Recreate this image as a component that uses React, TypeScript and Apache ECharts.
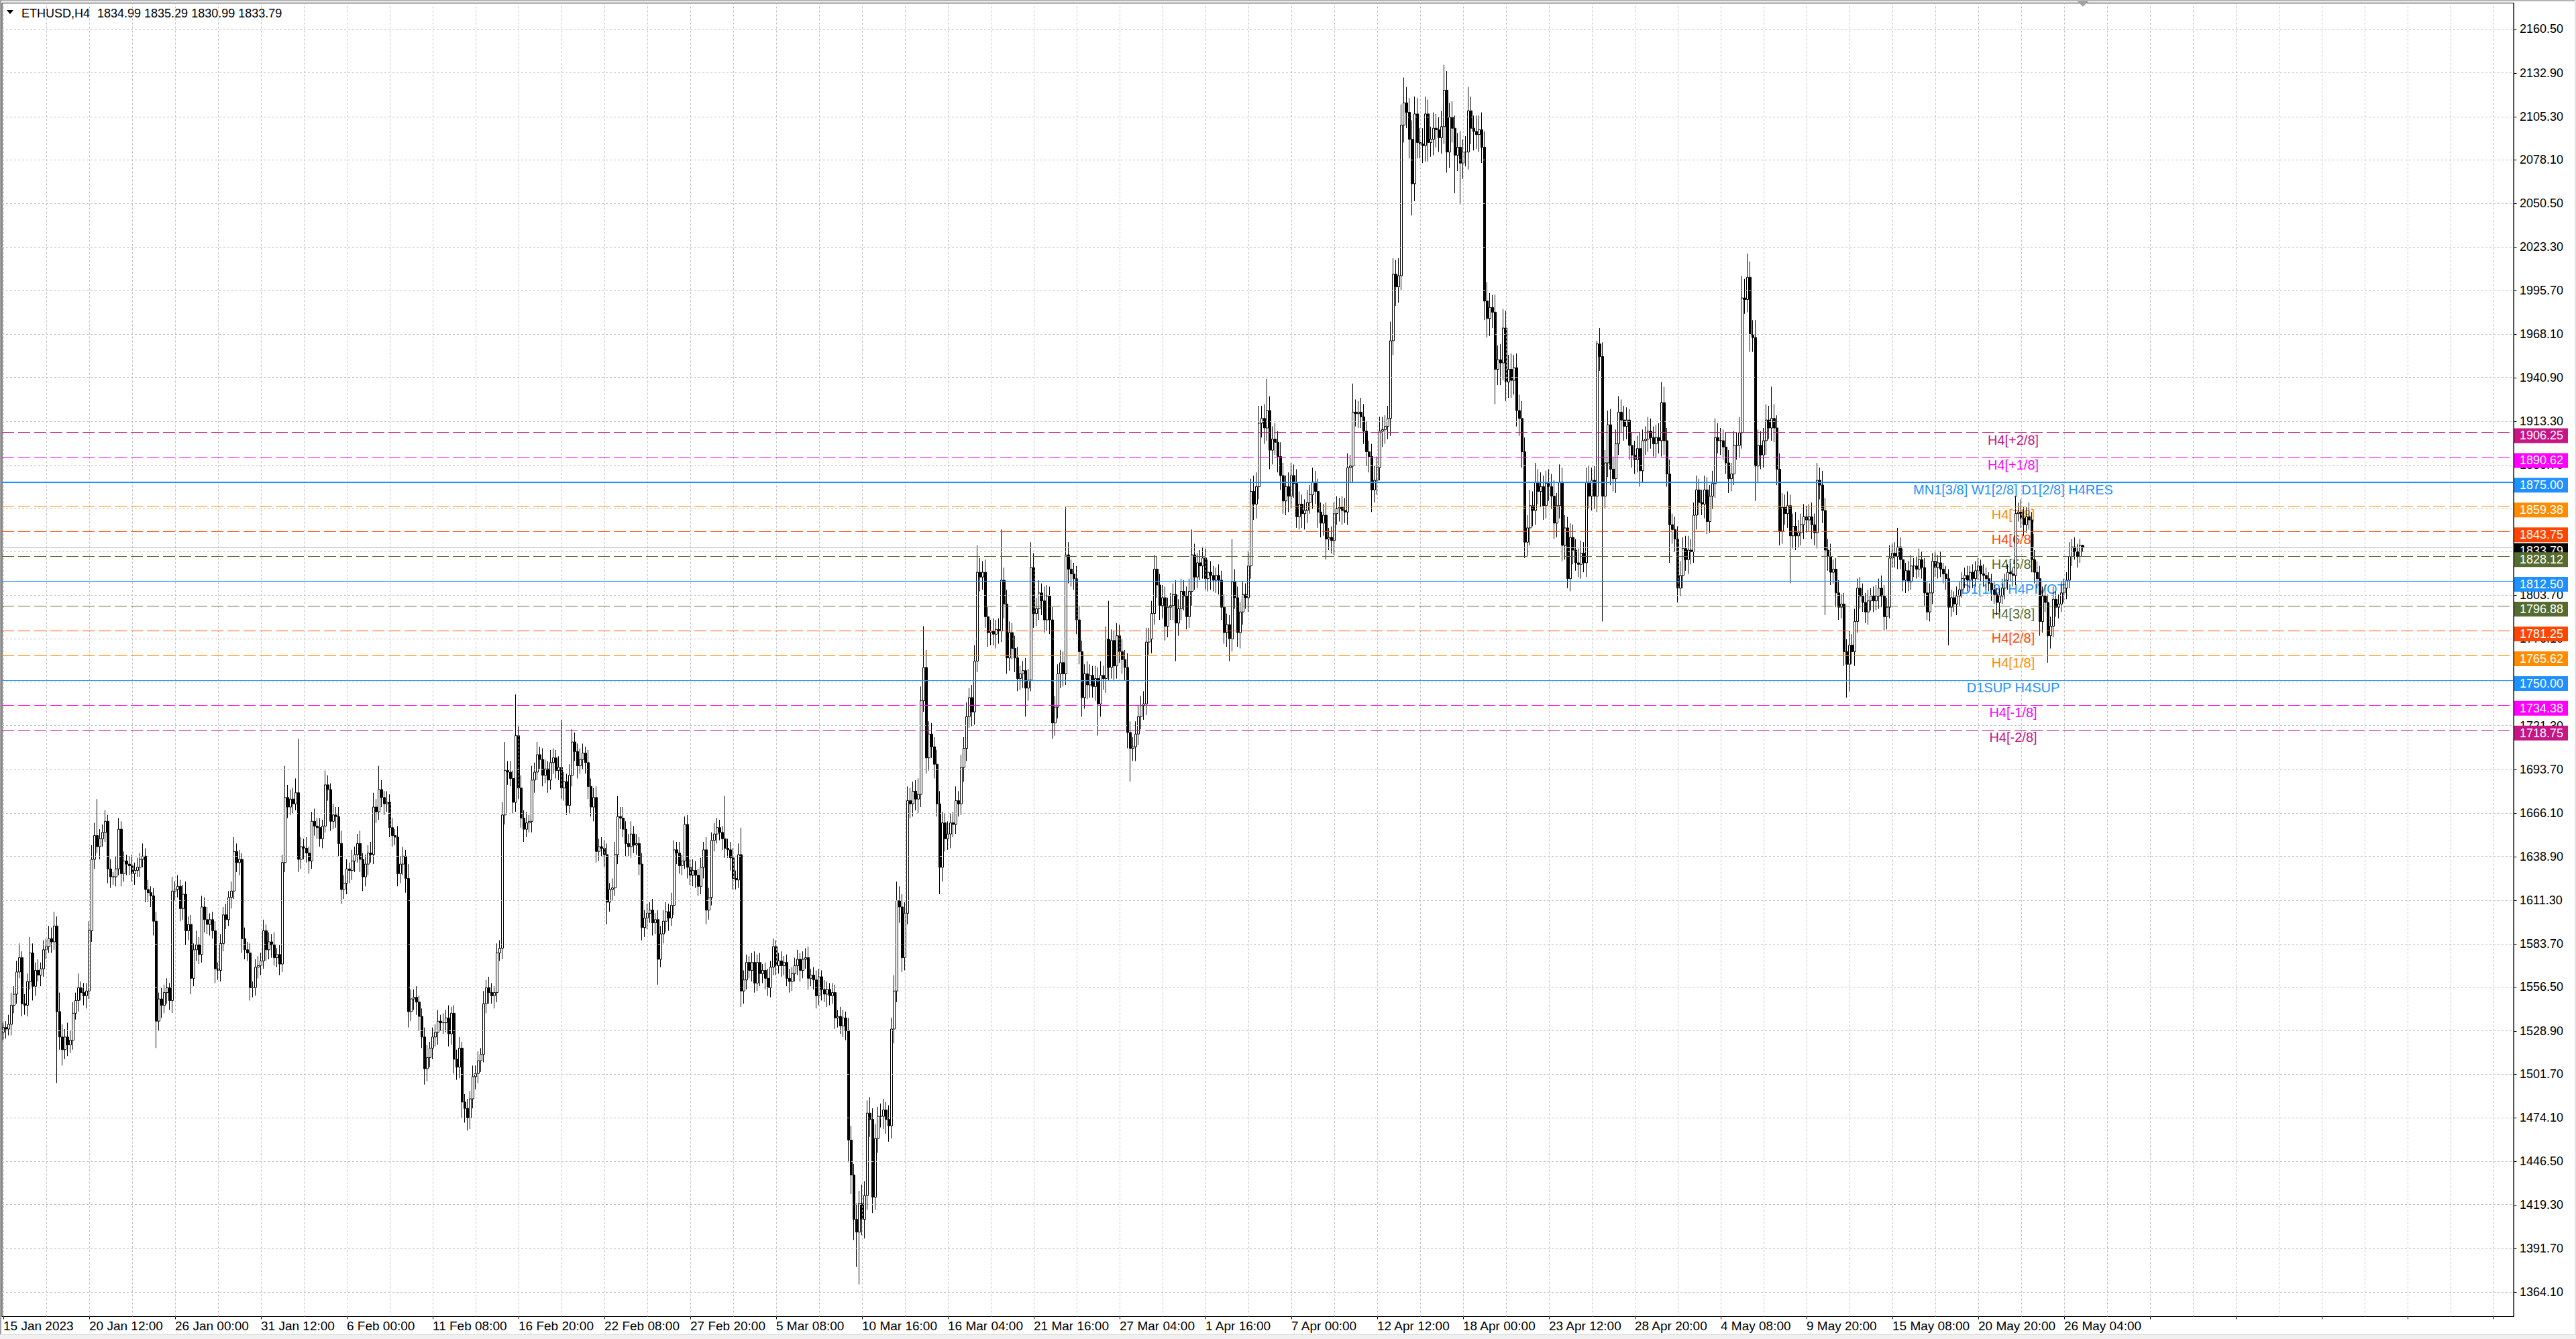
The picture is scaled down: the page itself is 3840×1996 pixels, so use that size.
import React, { useEffect, useRef } from "react";
import * as echarts from "echarts";

// ---------- data (ETHUSD H4) ----------
const firstOpen = 1528;
const closes: number[] = [
  1531, 1530, 1533, 1545, 1552, 1566, 1575, 1546, 1545, 1560, 1578, 1557, 1567, 1564, 1568, 1580,
  1582, 1587, 1585, 1595, 1541, 1525, 1517, 1525, 1520, 1523, 1540, 1548, 1556, 1553, 1551, 1554,
  1592, 1637, 1652, 1645, 1650, 1654, 1661, 1631, 1626, 1626, 1631, 1656, 1628, 1636, 1634, 1633,
  1628, 1630, 1632, 1637, 1639, 1618, 1616, 1614, 1598, 1535, 1549, 1545, 1553, 1556, 1548, 1617,
  1618, 1620, 1606, 1615, 1592, 1596, 1562, 1580, 1583, 1577, 1607, 1599, 1596, 1599, 1592, 1568,
  1567, 1584, 1602, 1599, 1613, 1617, 1642, 1635, 1637, 1587, 1580, 1578, 1556, 1556, 1569, 1570,
  1573, 1592, 1580, 1585, 1583, 1575, 1577, 1571, 1635, 1676, 1670, 1675, 1672, 1679, 1637, 1645,
  1644, 1641, 1636, 1661, 1658, 1657, 1650, 1658, 1684, 1681, 1661, 1665, 1664, 1647, 1618, 1622,
  1631, 1630, 1636, 1640, 1647, 1637, 1626, 1634, 1641, 1640, 1670, 1667, 1681, 1676, 1672, 1673,
  1657, 1652, 1651, 1628, 1634, 1639, 1625, 1541, 1549, 1550, 1547, 1538, 1525, 1505, 1512, 1518,
  1525, 1528, 1535, 1534, 1534, 1537, 1527, 1540, 1511, 1506, 1518, 1484, 1480, 1474, 1486, 1500,
  1502, 1510, 1514, 1546, 1556, 1553, 1551, 1553, 1578, 1581, 1665, 1693, 1692, 1688, 1673, 1715,
  1682, 1663, 1656, 1660, 1661, 1687, 1692, 1703, 1700, 1690, 1694, 1687, 1698, 1701, 1693, 1695,
  1682, 1686, 1671, 1690, 1711, 1705, 1696, 1700, 1704, 1698, 1683, 1670, 1676, 1642, 1645, 1644,
  1640, 1610, 1618, 1619, 1640, 1664, 1663, 1656, 1647, 1645, 1653, 1646, 1647, 1634, 1594, 1600,
  1603, 1605, 1597, 1599, 1574, 1590, 1598, 1604, 1600, 1608, 1643, 1641, 1633, 1636, 1659, 1632,
  1627, 1630, 1627, 1620, 1632, 1643, 1605, 1613, 1649, 1653, 1657, 1654, 1650, 1644, 1643, 1638,
  1625, 1624, 1640, 1554, 1561, 1572, 1567, 1572, 1559, 1572, 1565, 1567, 1562, 1556, 1569, 1582,
  1570, 1573, 1570, 1572, 1562, 1560, 1565, 1570, 1574, 1567, 1574, 1575, 1562, 1564, 1561, 1551,
  1563, 1555, 1552, 1555, 1551, 1553, 1537, 1538, 1532, 1537, 1529, 1460, 1438, 1410, 1402, 1420,
  1410, 1425, 1477, 1473, 1424, 1461, 1475, 1475, 1479, 1473, 1469, 1530, 1554, 1611, 1607, 1575,
  1603, 1674, 1672, 1680, 1675, 1678, 1737, 1758, 1701, 1716, 1708, 1697, 1672, 1632, 1660, 1650,
  1653, 1660, 1659, 1674, 1672, 1695, 1707, 1727, 1739, 1730, 1762, 1818, 1815, 1818, 1790, 1780,
  1781, 1779, 1782, 1781, 1813, 1798, 1764, 1780, 1770, 1764, 1751, 1754, 1756, 1745, 1750, 1821,
  1792, 1795, 1805, 1800, 1788, 1803, 1788, 1723, 1733, 1754, 1761, 1754, 1829, 1820, 1817, 1814,
  1788, 1768, 1739, 1754, 1747, 1753, 1746, 1751, 1735, 1753, 1751, 1776, 1758, 1775, 1759, 1778,
  1768, 1763, 1758, 1717, 1707, 1708, 1716, 1727, 1734, 1735, 1774, 1776, 1792, 1820, 1810, 1797,
  1802, 1784, 1796, 1797, 1804, 1786, 1795, 1806, 1803, 1790, 1806, 1829, 1815, 1824, 1822, 1827,
  1814, 1818, 1816, 1813, 1816, 1813, 1796, 1780, 1785, 1776, 1812, 1802, 1780, 1793, 1804, 1802,
  1822, 1869, 1861, 1872, 1912, 1915, 1909, 1920, 1895, 1902, 1900, 1891, 1879, 1863, 1872, 1866,
  1879, 1874, 1853, 1861, 1855, 1857, 1862, 1867, 1875, 1869, 1856, 1849, 1854, 1839, 1840, 1838,
  1855, 1858, 1859, 1857, 1856, 1884, 1885, 1919, 1918, 1919, 1916, 1907, 1894, 1891, 1870, 1876,
  1884, 1907, 1908, 1910, 1915, 1964, 2006, 1998, 2005, 2100, 2114, 2108, 2091, 2063, 2107, 2089,
  2088, 2087, 2107, 2089, 2091, 2098, 2097, 2092, 2099, 2122, 2083, 2105, 2098, 2081, 2086, 2076,
  2083, 2083, 2109, 2098, 2096, 2094, 2097, 2086, 1989, 1978, 1985, 1982, 1946, 1952, 1950, 1972,
  1938, 1946, 1939, 1947, 1920, 1915, 1894, 1837, 1846, 1860, 1857, 1875, 1869, 1872, 1860, 1874,
  1872, 1866, 1849, 1860, 1875, 1835, 1846, 1814, 1840, 1832, 1824, 1823, 1830, 1824, 1875, 1866,
  1876, 1866, 1962, 1954, 1866, 1887, 1911, 1883, 1877, 1899, 1919, 1914, 1910, 1914, 1898, 1892,
  1889, 1896, 1882, 1901, 1902, 1907, 1903, 1899, 1903, 1901, 1925, 1901, 1880, 1848, 1845, 1839,
  1808, 1816, 1833, 1826, 1832, 1831, 1854, 1870, 1862, 1861, 1870, 1850, 1866, 1874, 1903, 1901,
  1901, 1897, 1887, 1877, 1880, 1898, 1898, 1906, 1991, 1990, 2004, 1968, 1966, 1885, 1898, 1892,
  1901, 1914, 1909, 1915, 1909, 1883, 1844, 1859, 1855, 1860, 1841, 1847, 1841, 1843, 1848, 1853,
  1851, 1853, 1848, 1843, 1876, 1873, 1857, 1832, 1828, 1818, 1820, 1805, 1796, 1798, 1768, 1760,
  1772, 1768, 1787, 1808, 1803, 1799, 1793, 1800, 1803, 1800, 1803, 1808, 1803, 1790, 1796, 1827,
  1830, 1828, 1834, 1826, 1813, 1819, 1812, 1822, 1822, 1820, 1826, 1821, 1805, 1793, 1805, 1825,
  1821, 1824, 1820, 1817, 1814, 1796, 1802, 1798, 1803, 1807, 1814, 1816, 1813, 1818, 1814, 1819,
  1822, 1817, 1816, 1814, 1811, 1807, 1804, 1799, 1803, 1808, 1813, 1818, 1817, 1816, 1855, 1856,
  1852, 1848, 1853, 1851, 1826, 1818, 1814, 1787, 1803, 1799, 1778, 1784, 1801, 1796, 1798, 1805,
  1808, 1813, 1828, 1834, 1831, 1828, 1834.99, 1833.79,
];
// distance from the body top to the high
const wickUp: number[] = [
  3, 4, 6, 8, 5, 7, 9, 4, 6, 5, 10, 6, 5, 7, 4, 6,
  5, 8, 7, 9, 6, 12, 8, 5, 9, 6, 7, 5, 9, 4, 6, 5,
  6, 9, 8, 23, 6, 5, 7, 4, 6, 3, 8, 7, 5, 6, 4, 5,
  7, 5, 6, 4, 8, 5, 6, 4, 5, 6, 4, 7, 5, 6, 3, 9,
  5, 7, 4, 6, 8, 5, 6, 4, 9, 5, 7, 6, 8, 4, 5, 6,
  4, 6, 5, 7, 4, 6, 9, 5, 6, 4, 7, 5, 6, 4, 5, 6,
  5, 7, 4, 6, 5, 8, 4, 6, 5, 20, 8, 6, 7, 9, 34, 6,
  5, 7, 4, 6, 8, 5, 6, 4, 9, 6, 4, 7, 5, 6, 8, 5,
  6, 4, 7, 5, 6, 8, 4, 6, 5, 7, 9, 5, 15, 6, 4, 7,
  5, 6, 4, 7, 5, 6, 4, 9, 6, 5, 7, 4, 5, 6, 8, 4,
  6, 5, 7, 4, 6, 5, 8, 4, 5, 6, 7, 4, 5, 6, 5, 7,
  5, 6, 4, 8, 5, 7, 6, 4, 6, 5, 8, 18, 6, 7, 5, 26,
  6, 8, 5, 7, 4, 9, 6, 8, 5, 7, 6, 5, 8, 6, 5, 7,
  30, 6, 5, 7, 8, 6, 5, 7, 6, 4, 8, 5, 6, 7, 5, 6,
  5, 7, 4, 6, 8, 13, 6, 7, 5, 6, 8, 5, 6, 4, 7, 5,
  6, 5, 7, 4, 6, 5, 7, 6, 5, 8, 6, 5, 7, 4, 5, 6,
  5, 7, 6, 4, 6, 5, 8, 6, 5, 7, 6, 5, 4, 27, 6, 5,
  6, 5, 7, 17, 6, 5, 4, 6, 7, 5, 6, 4, 5, 6, 4, 5,
  4, 5, 6, 4, 5, 6, 4, 5, 6, 4, 5, 6, 7, 4, 5, 6,
  5, 4, 6, 5, 4, 6, 5, 4, 6, 5, 4, 8, 9, 7, 10, 8,
  12, 9, 8, 10, 7, 9, 6, 8, 7, 5, 9, 7, 10, 12, 9, 8,
  7, 9, 8, 6, 7, 10, 9, 26, 11, 8, 7, 6, 9, 8, 7, 6,
  8, 6, 7, 9, 6, 8, 7, 9, 6, 8, 10, 17, 9, 7, 8, 6,
  7, 8, 6, 7, 32, 8, 9, 7, 6, 8, 7, 5, 6, 8, 7, 16,
  9, 7, 8, 6, 9, 7, 6, 8, 7, 6, 8, 7, 30, 8, 6, 7,
  8, 9, 7, 6, 8, 7, 6, 8, 7, 9, 6, 8, 24, 7, 6, 8,
  7, 8, 6, 9, 7, 6, 8, 7, 6, 8, 9, 7, 8, 9, 8, 7,
  8, 7, 6, 8, 7, 9, 6, 8, 7, 6, 8, 16, 7, 6, 8, 7,
  6, 8, 7, 6, 5, 7, 6, 8, 7, 6, 27, 8, 7, 6, 8, 7,
  9, 8, 10, 9, 11, 8, 9, 20, 9, 8, 10, 7, 9, 8, 7, 9,
  8, 7, 9, 8, 6, 7, 8, 6, 9, 7, 8, 6, 7, 8, 6, 7,
  7, 8, 6, 7, 8, 9, 7, 18, 8, 7, 9, 8, 6, 7, 8, 9,
  7, 9, 8, 7, 8, 12, 10, 9, 11, 13, 16, 10, 9, 12, 11, 10,
  9, 10, 11, 9, 8, 10, 9, 8, 10, 16, 12, 9, 10, 8, 9, 10,
  8, 10, 15, 9, 8, 10, 9, 11, 10, 12, 9, 8, 11, 9, 10, 12,
  11, 9, 10, 8, 9, 10, 11, 9, 8, 10, 9, 12, 8, 9, 7, 8,
  9, 8, 10, 8, 11, 9, 8, 7, 9, 8, 7, 9, 8, 7, 9, 10,
  8, 9, 2, 10, 9, 8, 9, 10, 8, 9, 10, 8, 9, 8, 7, 8,
  9, 8, 10, 7, 8, 9, 8, 7, 8, 9, 13, 10, 8, 9, 7, 8,
  8, 9, 7, 8, 9, 7, 8, 9, 7, 8, 9, 8, 7, 8, 12, 9,
  8, 7, 9, 8, 7, 9, 8, 10, 14, 12, 15, 10, 9, 11, 10, 9,
  8, 10, 9, 20, 9, 8, 10, 9, 8, 9, 7, 8, 9, 8, 7, 8,
  7, 8, 9, 7, 11, 8, 9, 8, 7, 8, 6, 7, 8, 6, 7, 8,
  9, 7, 8, 6, 7, 8, 6, 7, 5, 6, 7, 6, 8, 7, 6, 8,
  6, 7, 12, 6, 7, 5, 6, 7, 5, 6, 7, 5, 6, 7, 6, 5,
  6, 5, 7, 4, 5, 6, 5, 4, 6, 5, 4, 5, 6, 4, 5, 6,
  5, 4, 6, 5, 4, 6, 5, 4, 5, 6, 4, 5, 6, 4, 11, 6,
  8, 7, 6, 9, 5, 6, 7, 8, 6, 7, 5, 6, 8, 5, 6, 7,
  6, 5, 9, 5, 6, 5, 4, 0.3,
];
// distance from the body bottom to the low
const wickDown: number[] = [
  5, 6, 4, 7, 5, 6, 4, 8, 6, 7, 5, 9, 6, 4, 7, 5,
  6, 4, 7, 5, 45, 8, 10, 6, 7, 5, 6, 4, 7, 5, 6, 8,
  5, 7, 6, 4, 8, 5, 6, 9, 7, 5, 6, 4, 8, 5, 7, 6,
  5, 7, 4, 6, 5, 8, 6, 7, 9, 17, 6, 8, 5, 7, 6, 8,
  6, 5, 8, 7, 9, 6, 10, 5, 7, 6, 5, 8, 6, 7, 5, 9,
  6, 7, 5, 6, 4, 7, 5, 6, 8, 9, 6, 5, 8, 6, 5, 7,
  6, 5, 7, 6, 8, 5, 6, 7, 5, 6, 7, 5, 6, 4, 8, 6,
  7, 6, 8, 5, 6, 7, 5, 6, 4, 7, 6, 5, 7, 8, 9, 6,
  7, 8, 6, 7, 5, 8, 9, 6, 7, 5, 6, 7, 5, 6, 7, 5,
  6, 7, 5, 8, 6, 7, 9, 10, 6, 7, 8, 9, 7, 10, 8, 6,
  7, 6, 8, 5, 7, 6, 8, 7, 9, 8, 7, 10, 9, 8, 7, 6,
  8, 6, 7, 5, 6, 7, 5, 8, 6, 5, 7, 6, 8, 5, 7, 6,
  7, 6, 8, 5, 6, 7, 8, 5, 6, 7, 5, 8, 6, 7, 5, 6,
  7, 8, 6, 5, 7, 6, 8, 5, 6, 7, 8, 6, 9, 7, 6, 5,
  8, 14, 6, 7, 5, 6, 7, 5, 8, 6, 7, 5, 6, 7, 8, 6,
  7, 6, 8, 7, 16, 5, 6, 7, 8, 5, 6, 7, 5, 6, 5, 7,
  6, 7, 8, 6, 5, 7, 9, 6, 5, 7, 6, 5, 7, 6, 5, 8,
  7, 6, 5, 10, 8, 6, 5, 7, 6, 5, 8, 6, 7, 5, 6, 5,
  6, 5, 7, 6, 5, 7, 6, 5, 6, 7, 5, 6, 7, 5, 6, 8,
  6, 7, 5, 8, 6, 5, 7, 6, 5, 7, 6, 14, 12, 13, 22, 33,
  10, 12, 9, 11, 10, 8, 9, 7, 8, 9, 10, 8, 9, 7, 10, 9,
  8, 7, 9, 8, 7, 9, 8, 7, 10, 8, 7, 9, 8, 17, 9, 8,
  7, 9, 8, 6, 8, 7, 9, 8, 7, 9, 8, 7, 9, 8, 7, 9,
  8, 7, 9, 8, 7, 9, 10, 8, 7, 9, 8, 7, 9, 18, 8, 7,
  9, 8, 7, 9, 8, 7, 9, 10, 8, 7, 9, 8, 7, 9, 8, 7,
  9, 8, 12, 7, 9, 8, 7, 9, 20, 8, 7, 9, 8, 7, 9, 8,
  7, 9, 8, 10, 21, 8, 9, 7, 8, 9, 7, 8, 9, 7, 8, 9,
  8, 9, 7, 8, 9, 24, 8, 7, 9, 8, 7, 9, 8, 7, 9, 8,
  7, 8, 9, 7, 8, 9, 8, 7, 9, 14, 8, 7, 9, 10, 8, 7,
  9, 8, 10, 9, 8, 9, 10, 8, 12, 9, 8, 10, 9, 8, 9, 10,
  8, 9, 7, 8, 9, 10, 8, 7, 9, 8, 10, 9, 8, 13, 7, 8,
  9, 7, 8, 9, 7, 8, 9, 10, 8, 9, 7, 8, 9, 10, 14, 8,
  9, 8, 10, 9, 8, 11, 9, 12, 10, 9, 11, 10, 12, 20, 11, 10,
  9, 11, 10, 12, 9, 10, 11, 9, 10, 11, 13, 10, 9, 24, 10, 26,
  10, 9, 11, 10, 12, 9, 11, 10, 12, 12, 11, 10, 22, 10, 14, 11,
  12, 10, 11, 9, 10, 11, 10, 10, 9, 11, 10, 9, 8, 10, 9, 8,
  9, 8, 10, 9, 8, 10, 9, 6, 8, 9, 5, 8, 9, 6, 9, 8,
  9, 8, 10, 9, 79, 8, 9, 10, 8, 9, 7, 8, 9, 8, 9, 8,
  9, 8, 10, 7, 9, 8, 7, 8, 9, 8, 10, 9, 8, 24, 9, 8,
  9, 5, 8, 7, 9, 8, 7, 9, 8, 7, 9, 8, 7, 8, 9, 8,
  9, 8, 7, 9, 8, 7, 9, 8, 10, 9, 8, 11, 9, 22, 10, 9,
  8, 9, 7, 8, 9, 10, 9, 8, 7, 9, 30, 8, 9, 7, 8, 9,
  8, 7, 9, 8, 10, 9, 8, 41, 9, 8, 7, 9, 8, 7, 9, 21,
  17, 8, 9, 7, 8, 6, 7, 8, 6, 7, 6, 8, 7, 9, 8, 7,
  6, 7, 8, 6, 7, 8, 6, 5, 7, 6, 5, 7, 8, 5, 6, 7,
  6, 7, 5, 6, 7, 24, 6, 5, 7, 6, 5, 6, 7, 5, 6, 5,
  6, 5, 7, 6, 5, 7, 6, 8, 6, 5, 7, 6, 5, 7, 6, 5,
  6, 7, 5, 6, 8, 7, 6, 9, 7, 6, 17, 8, 7, 6, 7, 5,
  6, 7, 5, 6, 5, 7, 4, 2.8,
];
const dateLabels: string[] = [
  "15 Jan 2023", "20 Jan 12:00", "26 Jan 00:00", "31 Jan 12:00", "6 Feb 00:00",
  "11 Feb 08:00", "16 Feb 20:00", "22 Feb 08:00", "27 Feb 20:00", "5 Mar 08:00",
  "10 Mar 16:00", "16 Mar 04:00", "21 Mar 16:00", "27 Mar 04:00", "1 Apr 16:00",
  "7 Apr 00:00", "12 Apr 12:00", "18 Apr 00:00", "23 Apr 12:00", "28 Apr 20:00",
  "4 May 08:00", "9 May 20:00", "15 May 08:00", "20 May 20:00", "26 May 04:00",
];
const priceTicks: number[] = [
  2160.5, 2132.9, 2105.3, 2078.1, 2050.5, 2023.3, 1995.7, 1968.1, 1940.9, 1913.3,
  1885.7, 1858.5, 1830.9, 1803.7, 1776.1, 1748.9, 1721.3, 1693.7, 1666.1, 1638.9,
  1611.3, 1583.7, 1556.5, 1528.9, 1501.7, 1474.1, 1446.5, 1419.3, 1391.7, 1364.1,
];
const levelValues: number[] = [
  1906.25, 1890.62, 1875.0, 1859.38, 1843.75, 1828.12, 1812.5,
  1796.88, 1781.25, 1765.62, 1750.0, 1734.38, 1718.75,
];
const levelNames: string[] = [
  "H4[+2/8]", "H4[+1/8]", "MN1[3/8] W1[2/8] D1[2/8] H4RES", "H4[7/8]", "H4[6/8]", "H4[5/8]",
  "D1[1/8] H4PIVOT", "H4[3/8]", "H4[2/8]", "H4[1/8]", "D1SUP H4SUP", "H4[-1/8]", "H4[-2/8]",
];
const currentPrice = 1833.79;
const symbolTitle = "ETHUSD,H4";
const lastBarText = "1834.99 1835.29 1830.99 1833.79";

// ---------- styles ----------
const levelColors = [
  "#C71585", "#FF00FF", "#1E90FF", "#FF8C00", "#FF4500", "#556B2F", "#1E90FF",
  "#556B2F", "#FF4500", "#FF8C00", "#1E90FF", "#FF00FF", "#C71585",
];
const levelSolid = [false, false, true, false, false, false, true, false, false, false, true, false, false];
const levelWidth = [1, 1, 2, 1, 1, 1, 1, 1, 1, 1, 1, 1, 1];
const W = 3840;
const H = 1996;
const SLOTS = 936;
const LABEL_BAR = 749;
const AX_FONT = "'Liberation Sans', Arial, sans-serif";
const GRID_COLOR = "#c0c0c0";

export default function App() {
  const ref = useRef<HTMLDivElement>(null);

  useEffect(() => {
    const el = ref.current;
    if (!el) return;
    const chart = echarts.init(el, null, { renderer: "svg", width: W, height: H });

    const candles = closes.map((c, i) => {
      const o = i === 0 ? firstOpen : closes[i - 1];
      const hi = Math.max(o, c) + wickUp[i];
      const lo = Math.min(o, c) - wickDown[i];
      return [o, c, lo, hi];
    });
    const cats = Array.from({ length: SLOTS }, (_, i) => String(i));

    const gridLines: any[] = [];
    priceTicks.forEach((v) => gridLines.push({ yAxis: v }));
    for (let k = 0; k < SLOTS; k += 16) gridLines.push({ xAxis: k });

    const levelLines: any[] = levelValues.map((v, i) => ({
      yAxis: v,
      lineStyle: {
        color: levelColors[i],
        type: levelSolid[i] ? "solid" : [18, 6],
        width: levelWidth[i],
      },
    }));
    levelLines.unshift({ yAxis: currentPrice, lineStyle: { color: GRID_COLOR, type: "solid", width: 1 } });

    chart.setOption({
      animation: false,
      backgroundColor: "#ffffff",
      grid: {
        left: 3,
        top: 4.5,
        width: 3744,
        height: 1958,
        show: true,
        borderColor: "#000",
        borderWidth: 1,
        backgroundColor: "transparent",
      },
      xAxis: {
        type: "category",
        data: cats,
        boundaryGap: true,
        axisLine: { show: true, lineStyle: { color: "#000", width: 1 } },
        axisTick: {
          show: true,
          alignWithLabel: true,
          interval: (i: number) => i % 32 === 0,
          length: 4,
          lineStyle: { color: "#000" },
        },
        axisLabel: {
          show: true,
          interval: (i: number) => i % 32 === 0,
          formatter: (v: string) => {
            const n = Number(v);
            return n % 32 === 0 && dateLabels[n / 32] ? dateLabels[n / 32] : "";
          },
          align: "left",
          margin: 4,
          color: "#000",
          fontFamily: AX_FONT,
          fontSize: 19,
          hideOverlap: false,
        },
        splitLine: { show: false },
      },
      yAxis: {
        type: "value",
        position: "right",
        min: 1348.75,
        max: 2176.95,
        axisLine: { show: true, lineStyle: { color: "#000", width: 1 } },
        axisTick: { show: false },
        axisLabel: { show: false },
        splitLine: { show: false },
      },
      series: [
        {
          type: "line",
          data: [],
          z: 1,
          silent: true,
          symbol: "none",
          markLine: {
            silent: true,
            symbol: ["none", "none"],
            label: { show: false },
            emphasis: { disabled: true },
            lineStyle: { color: GRID_COLOR, type: [3, 3], width: 1 },
            data: gridLines,
          },
        },
        {
          type: "line",
          data: [],
          z: 1,
          silent: true,
          symbol: "none",
          markLine: {
            silent: true,
            symbol: ["none", "none"],
            label: { show: false },
            emphasis: { disabled: true },
            data: levelLines,
          },
        },
        {
          type: "candlestick",
          z: 3,
          large: false,
          progressive: 0,
          barWidth: 3,
          silent: true,
          data: candles,
          itemStyle: {
            color: "#ffffff",
            color0: "#000000",
            borderColor: "#000000",
            borderColor0: "#000000",
            borderWidth: 1,
          },
        },
      ],
    });

    const yPx = (v: number) => chart.convertToPixel({ yAxisIndex: 0 }, v) as number;
    const xPx = (i: number) => chart.convertToPixel({ xAxisIndex: 0 }, i) as number;
    const axisX = 3747.5;

    const els: any[] = [];
    // window frame of the terminal
    els.push({ type: "rect", silent: true, shape: { x: 0, y: 0, width: W, height: 2 }, style: { fill: "#b4b4b4" } });
    els.push({ type: "rect", silent: true, shape: { x: 0, y: 0, width: 2, height: H }, style: { fill: "#a0a0a0" } });
    els.push({ type: "rect", silent: true, shape: { x: W - 2, y: 0, width: 2, height: H }, style: { fill: "#e3e3e3" } });
    els.push({ type: "rect", silent: true, shape: { x: 0, y: H - 6, width: W, height: 6 }, style: { fill: "#f0f0f0" } });
    els.push({ type: "rect", silent: true, shape: { x: 0, y: H - 7, width: W, height: 1 }, style: { fill: "#d9d9d9" } });
    // header
    els.push({
      type: "polygon",
      silent: true,
      shape: { points: [[10, 15], [20, 15], [15, 21]] },
      style: { fill: "#000" },
    });
    els.push({
      type: "text",
      silent: true,
      x: 32,
      y: 20,
      style: { text: symbolTitle, fill: "#000", fontSize: 18, fontFamily: AX_FONT, textVerticalAlign: "middle" },
    });
    els.push({
      type: "text",
      silent: true,
      x: 145,
      y: 20,
      style: { text: lastBarText, fill: "#000", fontSize: 18, fontFamily: AX_FONT, textVerticalAlign: "middle" },
    });
    // chart shift marker
    els.push({
      type: "polygon",
      silent: true,
      shape: { points: [[3097, 2], [3113, 2], [3105, 10]] },
      style: { fill: "#a0a0a0" },
    });
    // price scale ticks and labels
    priceTicks.forEach((v) => {
      const y = Math.round(yPx(v)) + 0.5;
      els.push({
        type: "line",
        silent: true,
        shape: { x1: axisX, y1: y, x2: axisX + 4, y2: y },
        style: { stroke: "#000", lineWidth: 1 },
      });
      els.push({
        type: "text",
        silent: true,
        x: 3756,
        y: yPx(v),
        style: {
          text: v.toFixed(2),
          fill: "#000",
          fontSize: 18,
          fontFamily: AX_FONT,
          textVerticalAlign: "middle",
        },
      });
    });
    // price boxes: current price first, then levels on top
    const box = (v: number, color: string) => {
      const y = yPx(v);
      els.push({
        type: "rect",
        silent: true,
        shape: { x: 3748, y: y - 6, width: 80, height: 22 },
        style: { fill: color },
      });
      els.push({
        type: "text",
        silent: true,
        x: 3756,
        y: y + 5,
        style: {
          text: v.toFixed(2),
          fill: "#fff",
          fontSize: 18,
          fontFamily: AX_FONT,
          textVerticalAlign: "middle",
        },
      });
    };
    box(currentPrice, "#000000");
    levelValues.forEach((v, i) => box(v, levelColors[i]));
    // level names on the chart
    const lx = xPx(LABEL_BAR);
    levelValues.forEach((v, i) => {
      els.push({
        type: "text",
        silent: true,
        z: 0,
        x: lx,
        y: yPx(v) + 11.5,
        style: {
          text: levelNames[i],
          fill: levelColors[i],
          fontSize: 20,
          fontFamily: AX_FONT,
          textAlign: "center",
          textVerticalAlign: "middle",
        },
      });
    });

    chart.setOption({ graphic: { elements: els } });

    return () => chart.dispose();
  }, []);

  return (
    <div
      ref={ref}
      style={{ position: "fixed", left: 0, top: 0, width: W, height: H, background: "#fff" }}
    />
  );
}
